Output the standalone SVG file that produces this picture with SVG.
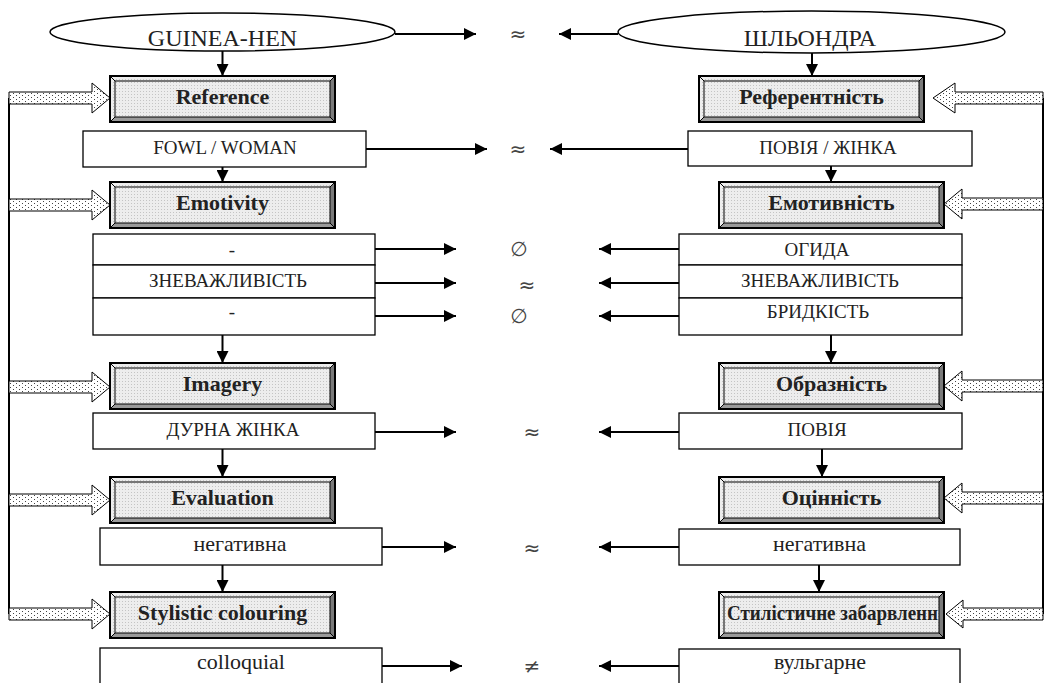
<svg xmlns="http://www.w3.org/2000/svg" xmlns:xlink="http://www.w3.org/1999/xlink" width="1045" height="683" viewBox="0 0 1045 683">
<style>
.ell{fill:#fff;stroke:#000;stroke-width:1.5}
.box{fill:#fff;stroke:#000;stroke-width:1.3}
.t{font-family:"Liberation Serif","Times New Roman",serif;fill:#222;text-anchor:middle}
.cap{font-size:19px}
.low{font-size:22px}
.big{font-size:24px}
.bold{font-size:22px;font-weight:bold}
.sym{font-family:"DejaVu Sans",sans-serif;font-size:20px;fill:#444;text-anchor:middle}
.con line{stroke:#000;stroke-width:2}
.harr{marker-end:url(#ah)}
.blk{stroke:#000;stroke-width:1;fill:url(#spk)}
.vline{stroke:#000;stroke-width:2;fill:none}
</style>
<defs>
<marker id="ah" markerWidth="12" markerHeight="12" refX="12" refY="6" orient="auto" markerUnits="userSpaceOnUse">
<path d="M0,0 L12,6 L0,12 Z" fill="#000"/>
</marker>
<pattern id="face" width="3" height="3" patternUnits="userSpaceOnUse">
<rect width="3" height="3" fill="#ededed"/>
<rect width="1" height="1" fill="#c4c4c4"/>
</pattern>
<pattern id="spk" width="6" height="4" patternUnits="userSpaceOnUse">
<rect width="6" height="4" fill="#fff"/>
<rect x="1" y="1" width="1" height="1" fill="#444"/>
<rect x="4" y="3" width="1" height="1" fill="#444"/>
</pattern>
<g id="bevel">
<rect x="0" y="0" width="225" height="46" fill="url(#face)"/>
<polygon points="225,0 225,46 220,41 220,5" fill="#7a7a7a"/>
<polygon points="0,46 225,46 220,41 5,41" fill="#9a9a9a"/>
<rect x="5" y="5" width="215" height="36" fill="none" stroke="#000" stroke-width="1"/>
<path d="M0,0 L5,5 M225,0 L220,5 M0,46 L5,41 M225,46 L220,41" stroke="#000" stroke-width="1"/>
<rect x="0" y="0" width="225" height="46" fill="none" stroke="#000" stroke-width="2"/>
</g>
</defs>

<g id="feedback">
<path class="vline" d="M9,98 V614"/>
<path class="vline" d="M1043,98 V614"/>
<path class="blk" d="M9,92 H92 V83 L110,98 L92,113 V104 H9 Z"/>
<path class="blk" d="M9,199 H92 V190 L110,205 L92,220 V211 H9 Z"/>
<path class="blk" d="M9,381 H92 V372 L110,387 L92,402 V393 H9 Z"/>
<path class="blk" d="M9,494 H92 V485 L110,500 L92,515 V506 H9 Z"/>
<path class="blk" d="M9,608 H92 V599 L110,614 L92,629 V620 H9 Z"/>
<path class="blk" d="M1043,92 H955 V83 L933,98 L955,113 V104 H1043 Z"/>
<path class="blk" d="M1043,198 H962 V189 L944,204 L962,219 V210 H1043 Z"/>
<path class="blk" d="M1043,380 H962 V371 L944,386 L962,401 V392 H1043 Z"/>
<path class="blk" d="M1043,492 H962 V483 L944,498 L962,513 V504 H1043 Z"/>
<path class="blk" d="M1043,608 H963 V600 L946,614 L963,628 V620 H1043 Z"/>
</g>

<g id="connectors" class="con">
<line class="harr" x1="395" y1="34" x2="476" y2="34"/>
<line class="harr" x1="618" y1="34" x2="559" y2="34"/>
<line class="harr" x1="366" y1="149" x2="487" y2="149"/>
<line class="harr" x1="688" y1="149" x2="550" y2="149"/>
<line class="harr" x1="375" y1="249" x2="456" y2="249"/>
<line class="harr" x1="375" y1="283" x2="456" y2="283"/>
<line class="harr" x1="375" y1="316" x2="456" y2="316"/>
<line class="harr" x1="679" y1="249" x2="599" y2="249"/>
<line class="harr" x1="679" y1="283" x2="599" y2="283"/>
<line class="harr" x1="679" y1="316" x2="599" y2="316"/>
<line class="harr" x1="375" y1="432" x2="456" y2="432"/>
<line class="harr" x1="679" y1="432" x2="599" y2="432"/>
<line class="harr" x1="382" y1="547" x2="456" y2="547"/>
<line class="harr" x1="679" y1="547" x2="599" y2="547"/>
<line class="harr" x1="382" y1="666" x2="462" y2="666"/>
<line class="harr" x1="679" y1="666" x2="599" y2="666"/>
<line class="harr" x1="222.5" y1="51" x2="222.5" y2="76"/>
<line class="harr" x1="222.5" y1="167" x2="222.5" y2="182"/>
<line class="harr" x1="222.5" y1="335" x2="222.5" y2="363"/>
<line class="harr" x1="222.5" y1="449" x2="222.5" y2="477"/>
<line class="harr" x1="222.5" y1="565" x2="222.5" y2="592"/>
<line class="harr" x1="812" y1="53" x2="812" y2="76"/>
<line class="harr" x1="831" y1="166" x2="831" y2="182"/>
<line class="harr" x1="831" y1="335" x2="831" y2="363"/>
<line class="harr" x1="822" y1="449" x2="822" y2="477"/>
<line class="harr" x1="819" y1="565" x2="819" y2="592"/>
</g>

<g id="symbols">
<text class="sym" x="518" y="41">≈</text>
<text class="sym" x="518" y="156">≈</text>
<text class="sym" x="519" y="256">∅</text>
<text class="sym" x="527" y="292">≈</text>
<text class="sym" x="519" y="323">∅</text>
<text class="sym" x="532" y="439">≈</text>
<text class="sym" x="532" y="555">≈</text>
<text class="sym" x="532" y="673">≠</text>
</g>

<g id="guinea-hen">
<ellipse class="ell" cx="222.5" cy="32" rx="172.5" ry="19"/>
<text class="t big" x="222.5" y="46">GUINEA-HEN</text>
</g>
<g id="shlondra">
<ellipse class="ell" cx="811.5" cy="32" rx="193.5" ry="21"/>
<text class="t big" x="810" y="46">ШЛЬОНДРА</text>
</g>

<g id="reference"><use xlink:href="#bevel" x="110" y="76"/><text class="t bold" x="222.5" y="104">Reference</text></g>
<g id="referentnist"><use xlink:href="#bevel" x="699" y="76"/><text class="t bold" x="811.5" y="104">Референтність</text></g>
<g id="emotivity"><use xlink:href="#bevel" x="110" y="182"/><text class="t bold" x="222.5" y="210">Emotivity</text></g>
<g id="emotyvnist"><use xlink:href="#bevel" x="719" y="182"/><text class="t bold" x="831.5" y="210">Емотивність</text></g>
<g id="imagery"><use xlink:href="#bevel" x="110" y="363"/><text class="t bold" x="222.5" y="391">Imagery</text></g>
<g id="obraznist"><use xlink:href="#bevel" x="719" y="363"/><text class="t bold" x="831.5" y="391">Образність</text></g>
<g id="evaluation"><use xlink:href="#bevel" x="110" y="477"/><text class="t bold" x="222.5" y="505">Evaluation</text></g>
<g id="otsinnist"><use xlink:href="#bevel" x="719" y="477"/><text class="t bold" x="831.5" y="505">Оцінність</text></g>
<g id="stylistic"><use xlink:href="#bevel" x="110" y="592"/><text class="t bold" x="222.5" y="620">Stylistic colouring</text></g>
<g id="stylistychne"><use xlink:href="#bevel" x="719" y="592"/><text class="t bold" x="832.5" y="620" textLength="211" lengthAdjust="spacingAndGlyphs">Стилістичне забарвленн</text></g>

<g id="fowl-woman"><rect class="box" x="83" y="131" width="283" height="36"/><text class="t cap" x="225" y="154">FOWL / WOMAN</text></g>
<g id="povia-zhinka"><rect class="box" x="688" y="131" width="284" height="35"/><text class="t cap" x="828" y="154">ПОВІЯ / ЖІНКА</text></g>

<g id="emo-left">
<rect class="box" x="93" y="234" width="282" height="31"/>
<rect class="box" x="93" y="265" width="282" height="33"/>
<rect class="box" x="93" y="298" width="282" height="37"/>
<text class="t cap" x="232" y="256">-</text>
<text class="t cap" x="228" y="287">ЗНЕВАЖЛИВІСТЬ</text>
<text class="t cap" x="232" y="318">-</text>
</g>
<g id="emo-right">
<rect class="box" x="679" y="234" width="283" height="31"/>
<rect class="box" x="679" y="265" width="283" height="33"/>
<rect class="box" x="679" y="298" width="283" height="37"/>
<text class="t cap" x="817" y="256">ОГИДА</text>
<text class="t cap" x="820" y="287">ЗНЕВАЖЛИВІСТЬ</text>
<text class="t cap" x="818" y="318">БРИДКІСТЬ</text>
</g>

<g id="durna-zhinka"><rect class="box" x="93" y="413" width="282" height="36"/><text class="t cap" x="233" y="436">ДУРНА ЖІНКА</text></g>
<g id="povia"><rect class="box" x="679" y="413" width="283" height="36"/><text class="t cap" x="817" y="436">ПОВІЯ</text></g>

<g id="neg-left"><rect class="box" x="100" y="528" width="282" height="37"/><text class="t low" x="240" y="551">негативна</text></g>
<g id="neg-right"><rect class="box" x="679" y="529" width="281" height="36"/><text class="t low" x="819.5" y="551">негативна</text></g>

<g id="colloquial"><rect class="box" x="100" y="648" width="282" height="45"/><text class="t low" x="241" y="669">colloquial</text></g>
<g id="vulgarne"><rect class="box" x="679" y="649" width="281" height="45"/><text class="t low" x="820" y="669">вульгарне</text></g>
</svg>
